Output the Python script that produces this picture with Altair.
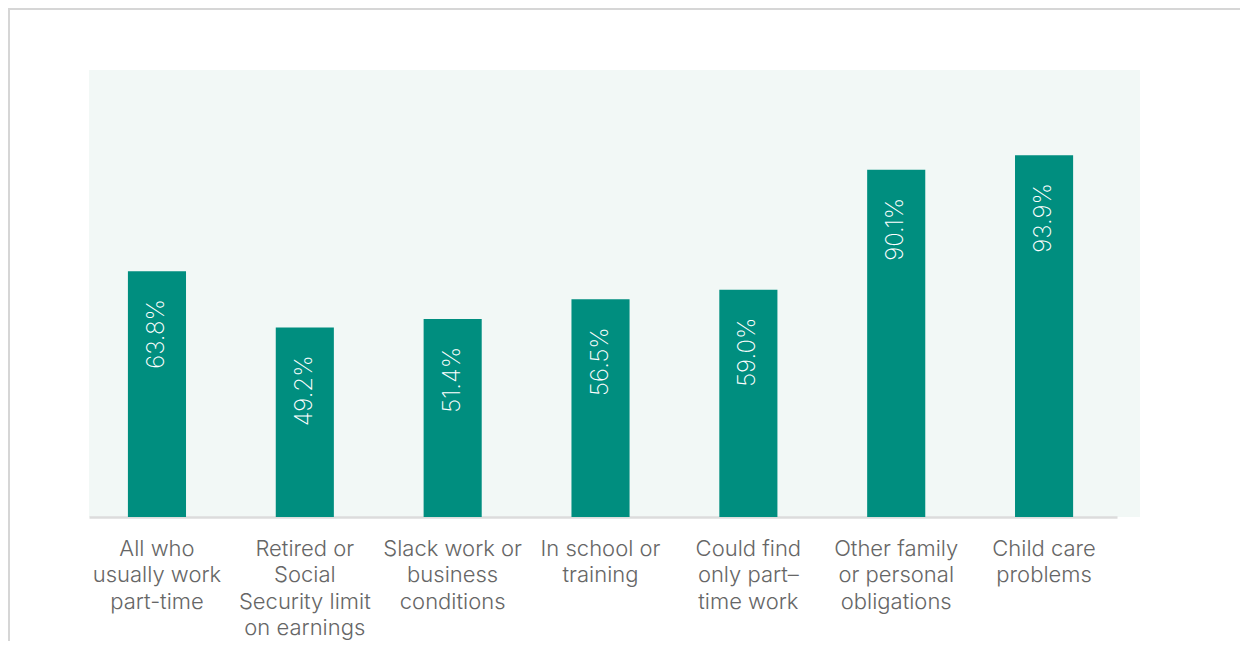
import altair as alt
import pandas as pd

categories = [
    "All who\nusually work\npart-time",
    "Retired or\nSocial\nSecurity limit\non earnings",
    "Slack work or\nbusiness\nconditions",
    "In school or\ntraining",
    "Could find\nonly part\u2013\ntime work",
    "Other family\nor personal\nobligations",
    "Child care\nproblems",
]
values = [63.8, 49.2, 51.4, 56.5, 59.0, 90.1, 93.9]

df = pd.DataFrame({"cat": categories, "val": values})

W, H = 1051, 447

x_enc = alt.X(
    "cat:N",
    sort=None,
    scale=alt.Scale(range=[0, 1028], paddingInner=0.607, paddingOuter=0.28, align=0.47),
    axis=alt.Axis(
        title=None,
        labelAngle=0,
        labelExpr="split(datum.value, '\\n')",
        labelFont="Inter",
        labelFontWeight=300,
        labelFontSize=22,
        labelColor="#666666",
        labelLineHeight=26.5,
        labelPadding=21,
        labelBaseline="top",
        ticks=False,
        domain=True,
        domainColor="#dcdcdc",
        domainWidth=2.5,
        grid=False,
    ),
)
y_enc = alt.Y("val:Q", scale=alt.Scale(domain=[0, 116], nice=False), axis=None)

base = alt.Chart(df).encode(x=x_enc, y=y_enc)

bars = base.mark_bar(color="#008E7F")

labels = base.transform_calculate(
    lbl="format(datum.val, '.1f') + '%'"
).mark_text(
    angle=270,
    align="right",
    baseline="middle",
    dx=-28,
    color="white",
    font="Inter",
    fontWeight=200,
    fontSize=24,
).encode(text="lbl:N")

frame_left = alt.Chart(df).mark_rule(color="#d6d6d6", strokeWidth=3).encode(
    x=alt.value(-80.5), y=alt.value(-63), y2=alt.value(600)
)
frame_top = alt.Chart(df).mark_rule(color="#d6d6d6", strokeWidth=3).encode(
    y=alt.value(-61.5), x=alt.value(-82), x2=alt.value(1170)
)

chart = (
    alt.layer(bars, labels, frame_left, frame_top)
    .properties(
        width=W,
        height=H,
        background="white",
        autosize=alt.AutoSizeParams(type="none"),
        padding={"left": 81, "top": 62, "right": 100, "bottom": 124},
    )
    .configure_view(fill="#f2f8f6", strokeWidth=0)
)

chart.save("out.html", embed_options={"renderer": "svg", "actions": False})
